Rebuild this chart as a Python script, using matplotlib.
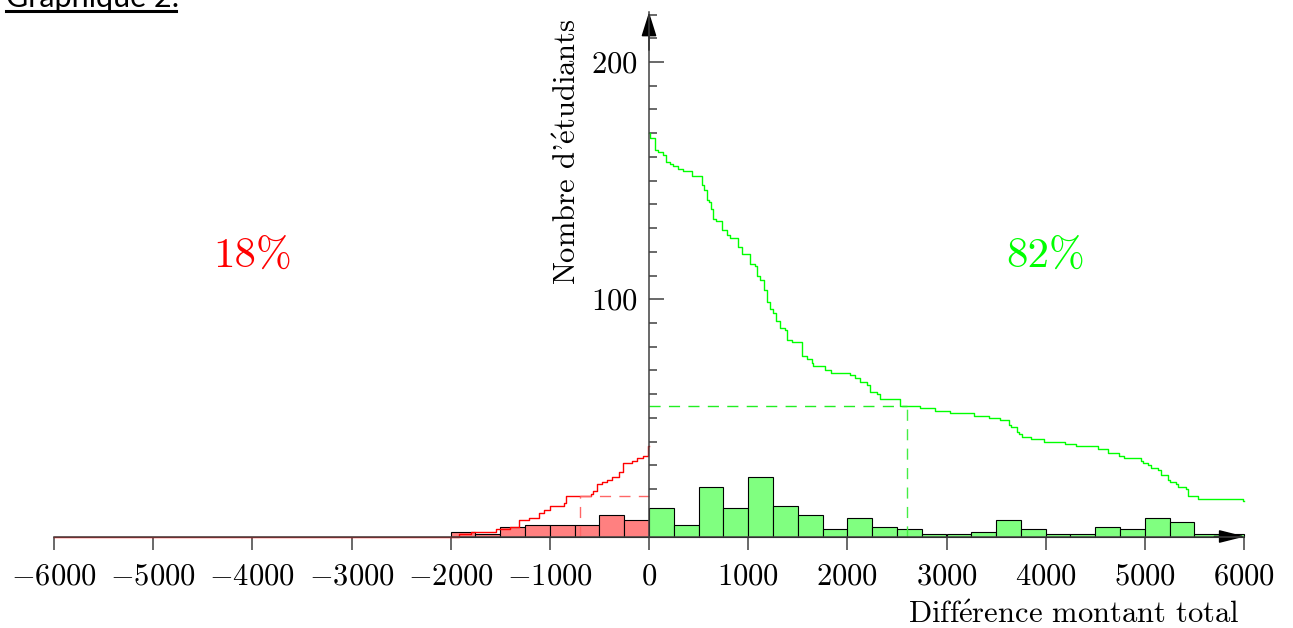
import matplotlib.pyplot as plt
from matplotlib.lines import Line2D
import numpy as np

plt.rcParams['mathtext.fontset'] = 'cm'
plt.rcParams['font.family'] = ['cmr10', 'DejaVu Serif']
plt.rcParams['axes.unicode_minus'] = False

# Histogramme : classes de 250
largeur = 250
bords_neg = np.arange(-2000, 0, largeur)
effectifs_neg = [2, 1, 4, 5, 5, 5, 9, 7]
bords_pos = np.arange(0, 6000, largeur)
effectifs_pos = [12, 5, 21, 12, 25, 13, 9, 3, 8, 4, 3, 1,
                 1, 2, 7, 3, 1, 1, 4, 3, 8, 6, 1, 1]

# Effectifs cumulés
rouge_x = [-6000, -1920, -1800, -1540, -1400, -1310, -1210, -1110, -1060, -1000,
           -860, -840, -580, -560, -520, -470, -420, -370, -300, -265,
           -175, -120, -60, -15, 0]
rouge_y = [0, 1, 2, 3, 4, 7, 8, 10, 11, 13,
           14, 17, 18, 19, 22, 23, 24, 25, 27, 31,
           32, 33, 34, 38, 38]

vert_x = [0, 15, 60, 95, 145, 170, 210, 245, 295, 345, 430, 530, 550, 580, 600,
          630, 650, 680, 735, 785, 815, 900, 935, 1020, 1070, 1085, 1120, 1155,
          1185, 1220, 1255, 1285, 1320, 1370, 1390, 1440, 1540, 1590, 1640, 1655,
          1775, 1840, 2025, 2075, 2130, 2195, 2230, 2295, 2330, 2530, 2735, 2885,
          3035, 3280, 3430, 3540, 3635, 3655, 3715, 3730, 3765, 3850, 3985, 4190,
          4310, 4525, 4630, 4735, 4785, 4960, 4980, 5030, 5060, 5135, 5160, 5235,
          5255, 5310, 5335, 5420, 5440, 5540, 5990, 6000]
vert_y = [170, 168, 163, 162, 161, 158, 157, 156, 155, 154, 152, 148, 146, 142, 141,
          138, 134, 133, 129, 127, 126, 122, 119, 115, 114, 110, 108, 104,
          99, 96, 94, 91, 88, 87, 83, 82, 76, 75, 73, 72,
          70, 69, 68, 67, 65, 64, 61, 60, 58, 55, 54, 53,
          52, 51, 50, 49, 47, 46, 44, 43, 42, 41, 40, 39,
          38, 37, 35, 34, 33, 32, 31, 30, 29, 28, 26, 24,
          23, 22, 21, 20, 17, 16, 15, 15]

seuil_rouge = (-700, 17)
seuil_vert = (2600, 55)

xticks = list(range(-6000, 6001, 1000))
xlabels = [r'$%d$' % v for v in xticks]

fig = plt.figure(figsize=(12.93, 6.28), dpi=100)
ax = fig.add_axes([54 / 1293, 0.14570, 1190 / 1293, 0.83487])

ax.bar(bords_neg, effectifs_neg, width=largeur, align='edge', color='#ff8080',
       edgecolor='black', linewidth=0.8, zorder=2, clip_on=False)
ax.bar(bords_pos, effectifs_pos, width=largeur, align='edge', color='#80ff80',
       edgecolor='black', linewidth=0.8, zorder=2, clip_on=False)

ax.step(rouge_x, rouge_y, where='post', color='#ff0000', lw=1, zorder=3, clip_on=False)
ax.step(vert_x, vert_y, where='post', color='#00ff00', lw=1, zorder=3, clip_on=False)

# pointillés
ax.plot([seuil_rouge[0], 0], [seuil_rouge[1]] * 2, ls=(0, (8, 6)), color='#ff6666', lw=1, zorder=3)
ax.plot([seuil_rouge[0]] * 2, [0, seuil_rouge[1]], ls=(0, (8, 6)), color='#ff6666', lw=1, zorder=3)
ax.plot([0, seuil_vert[0]], [seuil_vert[1]] * 2, ls=(0, (8, 6)), color='#22ee22', lw=1, zorder=3)
ax.plot([seuil_vert[0]] * 2, [0, seuil_vert[1]], ls=(0, (8, 6)), color='#44ee44', lw=1, zorder=3)

ax.set_xlim(-6000, 6000)
ax.set_ylim(0, 221)
ax.spines['left'].set_position(('data', 0))
ax.spines['right'].set_visible(False)
ax.spines['top'].set_visible(False)
for s in ('left', 'bottom'):
    ax.spines[s].set_color('#404040')
    ax.spines[s].set_linewidth(1.1)
    ax.spines[s].set_zorder(4)

ax.set_xticks(xticks)
ax.set_xticklabels(xlabels)
ax.tick_params(axis='x', direction='out', length=9.4, width=1.1, color='#404040',
               pad=10, labelsize=22)
ax.set_yticks([100, 200])
ax.set_yticklabels([r'$100$', r'$200$'])
ax.set_yticks(range(10, 221, 10), minor=True)
ax.tick_params(axis='y', which='major', direction='in', length=10.8, width=1.1,
               color='#404040', pad=8, labelsize=22)
ax.tick_params(axis='y', which='minor', direction='in', length=5.8, width=1.1,
               color='#404040')

# flèches des axes
ax.annotate('', xy=(0, 221), xytext=(0, 205), annotation_clip=False,
            arrowprops=dict(arrowstyle='-|>,head_length=1.5,head_width=0.47',
                            color='black', lw=1.1, shrinkA=0, shrinkB=0))
ax.annotate('', xy=(6010, 0), xytext=(5700, 0), annotation_clip=False,
            arrowprops=dict(arrowstyle='-|>,head_length=1.6,head_width=0.4',
                            color='black', lw=1.1, shrinkA=0, shrinkB=0))

ax.text(-4000, 118, '18%', color='#ff0000', fontsize=31, ha='center', va='center')
ax.text(4000, 118, '82%', color='#00ff00', fontsize=31, ha='center', va='center')
ax.text(-817, 162, r"Nombre d'$\mathrm{\acute{e}}$tudiants", rotation=90,
        ha='center', va='center', fontsize=22)
ax.text(5960, -36.6, r"Diff$\mathrm{\acute{e}}$rence montant total",
        ha='right', va='baseline', fontsize=22)

fig.text(6 / 1293, 1 - 7 / 628, 'Graphique 2:', fontsize=22, family='Lato',
         ha='left', va='baseline')
fig.add_artist(Line2D([6 / 1293, 176 / 1293], [1 - 10.5 / 628] * 2, lw=2.2,
                      color='black', transform=fig.transFigure))

fig.savefig('out.png', dpi=100)
